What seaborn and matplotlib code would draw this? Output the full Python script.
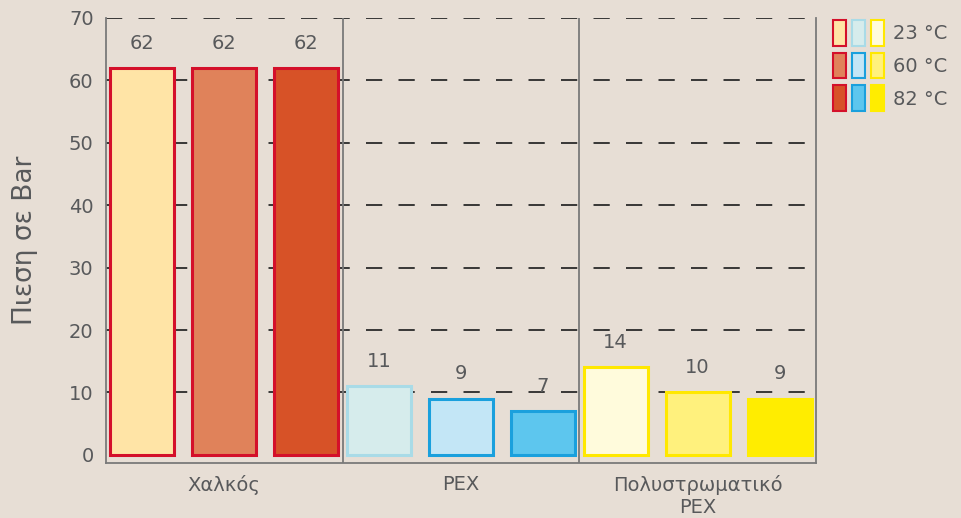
import numpy as np
import pandas as pd
import matplotlib
matplotlib.use("Agg")
import matplotlib.pyplot as plt
import seaborn as sns
from matplotlib.patches import Patch
from matplotlib.legend_handler import HandlerTuple

# data
groups = ["Χαλκός", "ΡΕΧ", "Πολυστρωματικό\nΡΕΧ"]
temps = ["23 °C", "60 °C", "82 °C"]
copper = [62, 62, 62]
pex = [11, 9, 7]
multi_pex = [14, 10, 9]

# colours per group, per temperature
fills = [
    ["#FFE4A6", "#E0825A", "#D75227"],
    ["#D6ECEC", "#C3E6F6", "#5DC6EE"],
    ["#FFFBDC", "#FFF17D", "#FFED00"],
]
edges = [
    ["#D4102A", "#D4102A", "#D4102A"],
    ["#A9DBE7", "#1AA0DD", "#1AA0DD"],
    ["#FFE800", "#FFE800", "#FFED00"],
]

bg = "#E7DED5"
txt = "#58595B"

df = pd.DataFrame({
    "group": np.repeat(groups, 3),
    "temp": temps * 3,
    "value": copper + pex + multi_pex,
})

sns.set_style("white")
plt.rcParams["font.family"] = ["DejaVu Sans"]

fig = plt.figure(figsize=(9.62, 5.18), dpi=100, facecolor=bg)
ax = fig.add_axes([0.1102, 0.1062, 0.7380, 0.8591])
ax.set_facecolor(bg)

sns.barplot(data=df, x="group", y="value", hue="temp", order=groups,
            hue_order=temps, width=1.04, gap=0.22, legend=False, ax=ax, zorder=3)

for i, cont in enumerate(ax.containers):
    for j, bar in enumerate(cont):
        bar.set_facecolor(fills[j][i])
        bar.set_edgecolor(edges[j][i])
        bar.set_linewidth(2.2)
    ax.bar_label(cont, padding=11, fontsize=14, color=txt)

ax.set_xlim(-0.5, 2.5)
ax.set_ylim(-1.3, 70)
ax.set_yticks(range(0, 71, 10))

# dashed grid
for y in range(10, 71, 10):
    ax.axhline(y, color="#2A2A2A", lw=1.3, ls=(0, (9, 9)), zorder=1)
# group separators
for x in [0.5, 1.5]:
    ax.axvline(x, color="#7A7A7A", lw=1.3, zorder=2)

ax.spines["top"].set_visible(False)
for s in ["left", "right", "bottom"]:
    ax.spines[s].set_color("#7A7A7A")
    ax.spines[s].set_linewidth(1.3)

ax.tick_params(axis="y", direction="inout", length=12, width=1.2, color="#2A2A2A",
               labelsize=14, labelcolor=txt, pad=3)
ax.set_xticks([0, 1, 2])
ax.set_xticklabels(groups)
ax.tick_params(axis="x", length=0, labelsize=14, labelcolor=txt, pad=9)
ax.set_xticks([-0.5, 0.5, 1.5, 2.5], minor=True)
ax.tick_params(axis="x", which="minor", length=5, width=1.2, color="#7A7A7A", direction="out")

ax.set_xlabel("")
ax.set_ylabel("Πιεση σε Bar", fontsize=19, color=txt, labelpad=22)

# legend: three swatches per temperature
handles = []
for i in range(3):
    handles.append(tuple(Patch(facecolor=fills[j][i], edgecolor=edges[j][i], lw=1.5)
                         for j in range(3)))
fig.legend(handles, temps, handler_map={tuple: HandlerTuple(ndivide=None, pad=0.31)},
           loc="upper left", bbox_to_anchor=(823 / 962, 1 - 10 / 518),
           frameon=False, borderpad=0, handlelength=2.63, handleheight=1.67,
           handletextpad=0.46, labelspacing=0.36, fontsize=14, labelcolor=txt)

fig.savefig("out.png", dpi=100, facecolor=bg)
